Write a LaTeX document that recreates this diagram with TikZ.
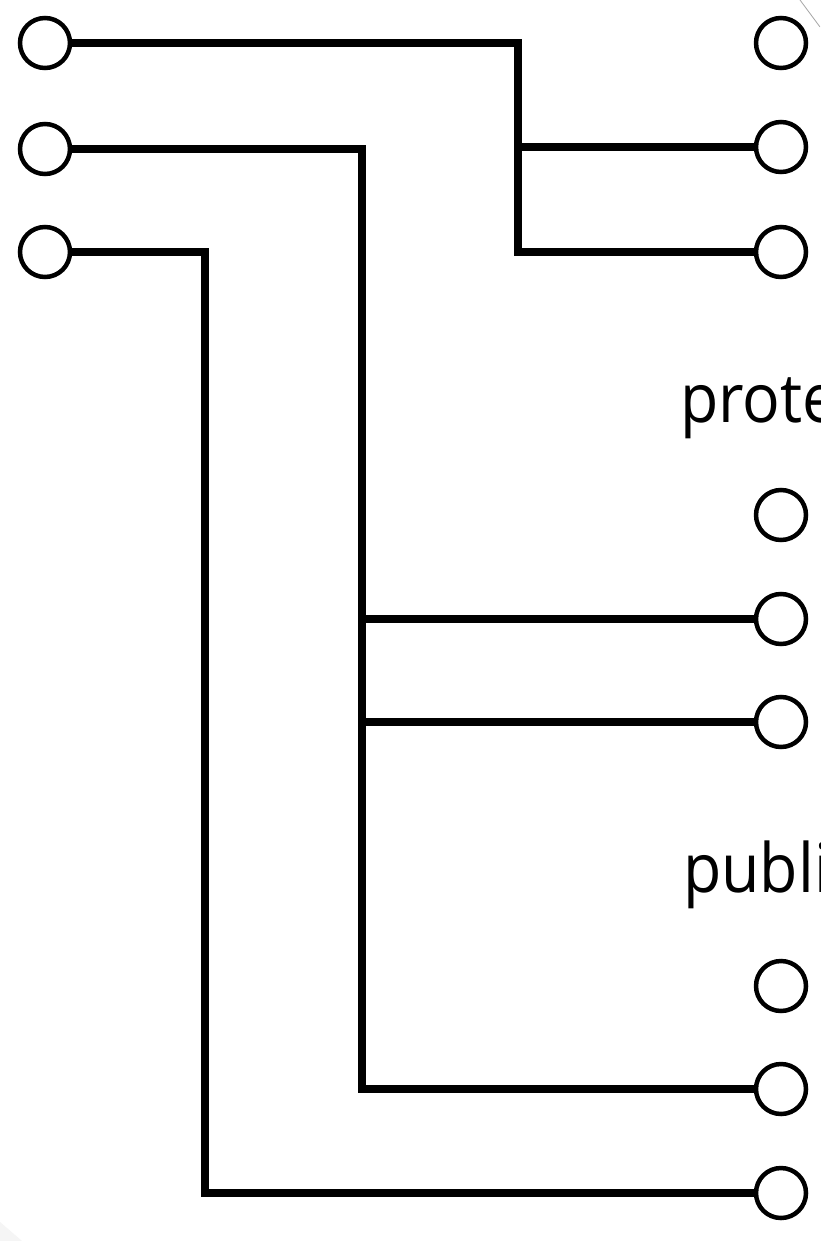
\documentclass[tikz,border=0pt]{standalone}
\usepackage{fontspec}
\setmainfont{Open Sans}
\begin{document}
\begin{tikzpicture}[x=1pt,y=-1pt,
  port/.style={circle,draw=black,line width=4.5pt,minimum size=50pt,inner sep=0pt,fill=white},
  wire/.style={line width=8.5pt,line cap=butt,line join=miter},
  lbl/.style={anchor=base west,inner sep=0pt,xscale=0.92,font=\fontsize{68pt}{80pt}\selectfont}]
\useasboundingbox (0,0) rectangle (820,1241);
\clip (0,0) rectangle (820,1241);
\fill[white] (0,0) rectangle (820,1241);
% left ports
\node[port] (L1) at (45,43) {};
\node[port] (L2) at (45,149) {};
\node[port] (L3) at (45,252) {};
% right ports
\node[port] (R1) at (781,43) {};
\node[port] (R2) at (781,147) {};
\node[port] (R3) at (781,252) {};
\node[port] (R4) at (781,515) {};
\node[port] (R5) at (781,619) {};
\node[port] (R6) at (781,722) {};
\node[port] (R7) at (781,986) {};
\node[port] (R8) at (781,1089) {};
\node[port] (R9) at (781,1193) {};
% labels
\node[lbl] (T1) at (680,422) {protected};
\node[lbl] (T2) at (683,892) {public};
% bus coordinates
\coordinate (a) at (518,0);
\coordinate (b) at (362,0);
\coordinate (c) at (205,0);
% wires
\draw[wire] (L1.east) -- (L1 -| a) |- (R3.west);
\draw[wire] (a |- R2) -- (R2.west);
\draw[wire] (L2.east) -- (L2 -| b) |- (R8.west);
\draw[wire] (b |- R5) -- (R5.west);
\draw[wire] (b |- R6) -- (R6.west);
\draw[wire] (L3.east) -- (L3 -| c) |- (R9.west);
% faint artifacts
\coordinate (s1) at (800,0);
\coordinate (s2) at (820,27);
\draw[gray!70,line width=0.8pt] (s1) -- (s2);
\coordinate (g1) at (0,1222);
\coordinate (g2) at (22,1241);
\fill[gray!8] (g1) -- (g2) -- (0,1241) -- cycle;
\end{tikzpicture}
\end{document}
